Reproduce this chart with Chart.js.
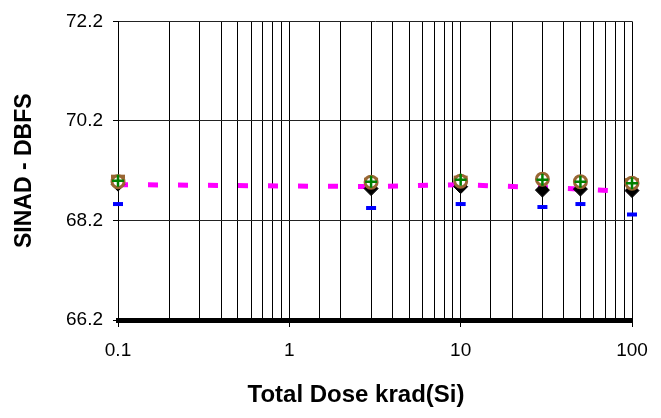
<!DOCTYPE html>
<html>
<head>
<meta charset="utf-8">
<script src="https://cdn.jsdelivr.net/npm/chart.js@4/dist/chart.umd.min.js"></script>
<style>
  html, body { margin: 0; padding: 0; background: #fff; }
  #grafico { display: block; }
</style>
</head>
<body>
<canvas id="grafico" width="661" height="418"></canvas>
<script>
// doses (krad) where the samples were measured
const doses = [0.1, 3, 10, 30, 50, 100];

// SINAD readings per device (dBFS)
const sinadMagenta = [68.92, 68.88, 68.92, 68.86, 68.83, 68.78];
const sinadAzul    = [68.53, 68.45, 68.53, 68.47, 68.53, 68.32];
const sinadPreto   = [68.93, 68.84, 68.88, 68.81, 68.83, 68.80];
const sinadMarrom  = [68.98, 68.97, 68.99, 69.03, 68.98, 68.95];
const sinadBarra   = [69.08, 69.02, 69.06, null, null, 69.01];
const sinadVerde   = [69.00, 68.98, 69.02, 69.02, 68.98, 68.95];

const yTicks = [66.2, 68.2, 70.2, 72.2];
const xLabels = [0.1, 1, 10, 100];
const tituloX = 'Total Dose krad(Si)';

function pontos(valores) {
    return doses.map((d, i) => ({ x: d, y: valores[i] }));
}

function ehDecada(v) {
    return xLabels.some(l => Math.abs(l - v) < 1e-9);
}

const fonte = "'Liberation Sans', Arial, sans-serif";

// o titulo do eixo X fica um pouco a esquerda do centro do grafico, como no original
const tituloEixoX = {
    id: 'tituloEixoX',
    afterDraw(chart) {
        const ctx = chart.ctx;
        const area = chart.chartArea;
        ctx.save();
        ctx.font = 'bold 24px ' + fonte;
        ctx.fillStyle = '#000';
        ctx.textAlign = 'center';
        ctx.textBaseline = 'middle';
        ctx.fillText(tituloX, (area.left + area.right) / 2 - 19, 395);
        ctx.restore();
    }
};

new Chart(document.getElementById('grafico'), {
    type: 'line',
    data: {
        datasets: [
            { data: pontos(sinadVerde), showLine: false, clip: false, pointStyle: 'cross', pointRadius: 6,
              borderColor: '#008000', backgroundColor: '#008000', pointBorderWidth: 2.5 },
            { data: pontos(sinadMarrom), showLine: false, clip: false, pointStyle: 'circle', pointRadius: 6,
              borderColor: '#996633', backgroundColor: '#ffffff', pointBorderWidth: 3 },
            { data: pontos(sinadBarra), showLine: false, clip: false, pointStyle: 'line', pointRadius: 7,
              borderColor: '#996633', backgroundColor: '#996633', pointBorderWidth: 4 },
            { data: pontos(sinadPreto), showLine: false, clip: false, pointStyle: 'rectRot', pointRadius: 7,
              borderColor: '#000000', backgroundColor: '#000000', pointBorderWidth: 1 },
            { data: pontos(sinadAzul), showLine: false, clip: false, pointStyle: 'line', pointRadius: 5,
              borderColor: '#0000ff', backgroundColor: '#0000ff', pointBorderWidth: 4 },
            { data: pontos(sinadMagenta), showLine: true, clip: false, pointRadius: 0, borderWidth: 5,
              borderDash: [10, 20], borderColor: '#ff00ff', backgroundColor: '#ff00ff', tension: 0 }
        ]
    },
    options: {
        responsive: false,
        animation: false,
        layout: { padding: { top: 14, right: 29, left: 0, bottom: 0 } },
        plugins: { legend: { display: false }, tooltip: { enabled: false } },
        scales: {
            x: {
                type: 'logarithmic',
                min: 0.1,
                max: 100,
                border: { display: true, color: '#000', width: 5 },
                grid: {
                    color: '#000',
                    lineWidth: 1,
                    drawTicks: true,
                    tickLength: 7,
                    tickColor: c => (c.tick && ehDecada(c.tick.value)) ? '#000' : 'rgba(0,0,0,0)'
                },
                ticks: {
                    autoSkip: false,
                    maxRotation: 0,
                    padding: 12,
                    color: '#000',
                    font: { family: fonte, size: 19 },
                    callback: v => ehDecada(v) ? String(v) : ''
                },
                title: { display: false },
                afterFit: s => { s.height = 98; }
            },
            y: {
                min: 66.2,
                max: 72.2,
                afterBuildTicks: s => { s.ticks = yTicks.map(v => ({ value: v })); },
                border: { display: true, color: '#000', width: 1 },
                grid: { color: '#222', lineWidth: 1, drawTicks: true, tickLength: 5, tickColor: '#000' },
                ticks: {
                    padding: 10,
                    color: '#000',
                    font: { family: fonte, size: 19 },
                    callback: v => v.toFixed(1)
                },
                title: { display: true, text: 'SINAD - DBFS', color: '#000',
                         font: { family: fonte, size: 23, weight: 'bold' }, padding: { top: 11, bottom: 0 } },
                afterFit: s => { s.width = 118; }
            }
        }
    },
    plugins: [tituloEixoX]
});
</script>
</body>
</html>
